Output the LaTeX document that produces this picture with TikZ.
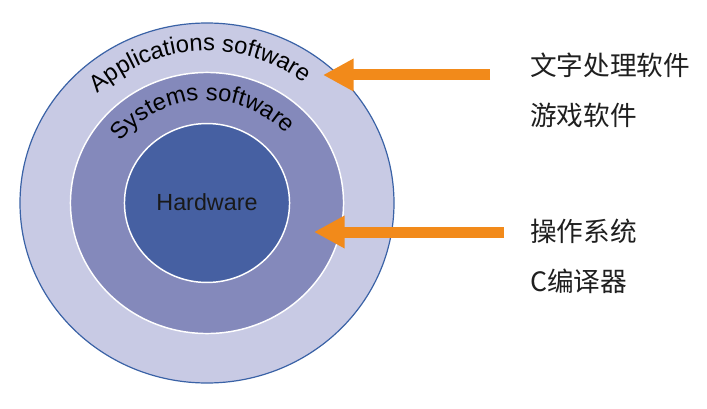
\documentclass[tikz,border=0pt]{standalone}
\usepackage{fontspec}
\setmainfont{Liberation Sans}
\newfontfamily\cjk{Noto Sans CJK SC}
\usetikzlibrary{arrows.meta, decorations.text}
\definecolor{ringOuter}{HTML}{C8CAE4}
\definecolor{ringMid}{HTML}{8489BB}
\definecolor{ringCore}{HTML}{4660A2}
\definecolor{ringEdge}{HTML}{3A62A6}
\definecolor{mOrange}{HTML}{F28A1A}

\begin{document}
\begin{tikzpicture}[x=0.75pt, y=0.75pt,
  ring/.style={draw=white, line width=1.1pt},
  callout/.style={-{Triangle[length=23pt, width=23pt]}, draw=mOrange, line width=8.25pt},
  sidetag/.style={anchor=west, font=\cjk\fontsize{20}{24}\selectfont, text=black!88, inner sep=0pt},
]
  \useasboundingbox (0,0) rectangle (707,408);
  \coordinate (ctr) at (207,205);
  % --- three layers ---
  \fill[ringOuter, draw=ringEdge, line width=0.9pt] (ctr) ellipse [x radius=140.25pt, y radius=135pt];
  \fill[ringMid, ring] (ctr) ellipse [x radius=102.4pt, y radius=97.9pt];
  \fill[ringCore, ring] (ctr) ellipse [x radius=61.9pt, y radius=59.6pt];
  % --- layer names ---
  \node[font=\fontsize{17.5}{20}\selectfont, text=black!90] (hw) at (207,206) {Hardware};
  \path[decorate, decoration={text along path, text align=center,
        text={|\fontsize{17.8}{20}\selectfont|Applications software}}]
    (ctr) ++(173:118pt and 114pt) arc [start angle=173, end angle=13, x radius=118pt, y radius=114pt];
  \path[decorate, decoration={text along path, text align=center,
        text={|\fontsize{17.8}{20}\selectfont|Systems software}}]
    (ctr) ++(175:80pt and 77pt) arc [start angle=175, end angle=11, x radius=80pt, y radius=77pt];
  % --- examples on the right ---
  \node[sidetag] (wp) at (530,343) {文字处理软件};
  \node[sidetag] (game) at (530,293) {游戏软件};
  \node[sidetag] (os) at (530,177) {操作系统};
  \node[sidetag] (cc) at (530,127) {C编译器};
  % --- arrows ---
  \coordinate (apptail) at (490,333);
  \coordinate (apptip) at (323,333);
  \coordinate (systail) at (504,176);
  \coordinate (systip) at (314,176);
  \draw[callout] (apptail) -- (apptip);
  \draw[callout] (systail) -- (systip);
\end{tikzpicture}
\end{document}
